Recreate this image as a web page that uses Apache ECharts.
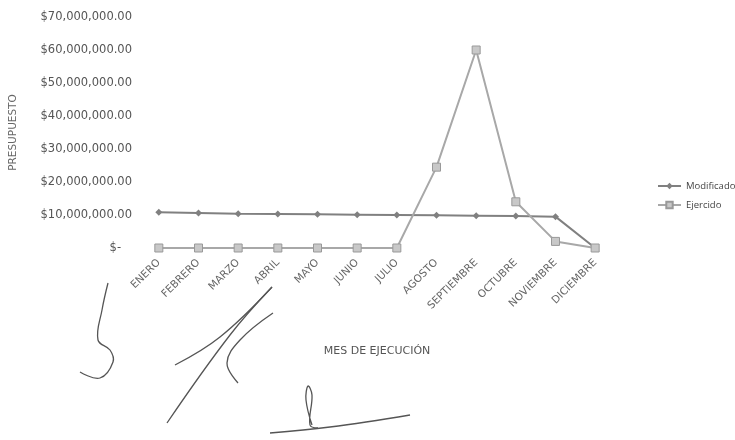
<!DOCTYPE html>
<html><head><meta charset="utf-8">
<script src="https://cdn.jsdelivr.net/npm/echarts@6/dist/echarts.min.js"></script>
<style>html,body{margin:0;padding:0;background:#fff}#c{width:735px;height:440px}</style>
</head><body><div id="c"></div>
<script>
const months = ['ENERO','FEBRERO','MARZO','ABRIL','MAYO','JUNIO','JULIO','AGOSTO','SEPTIEMBRE','OCTUBRE','NOVIEMBRE','DICIEMBRE'];
const modificado = [10800000,10600000,10400000,10300000,10200000,10100000,10000000,9900000,9800000,9700000,9500000,0];
const ejercido = [0,0,0,0,0,0,0,24500000,60000000,14000000,2000000,0];
const yTicks = {min:0, max:70000000, interval:10000000};

function fmt(v){
  if (v === 0) return '$-   ';
  return '$' + v.toLocaleString('en-US') + '.00';
}
const chart = echarts.init(document.getElementById('c'));
const ink = '#666';
const ff = 'DejaVu Sans';
function pl(points){return {type:'polyline', shape:{points:points, smooth:0.4}, style:{stroke:'#555', lineWidth:1.3, fill:null}, silent:true};}
chart.setOption({
  animation:false,
  grid:{left:135, right:120, top:17, bottom:192},
  legend:{orient:'vertical', left:652, top:176, itemWidth:23, itemHeight:8, itemGap:9,
    textStyle:{fontSize:9.5, color:'#444', fontFamily:'Open Sans'},
    data:['Modificado','Ejercido']},
  xAxis:{type:'category', data:months, boundaryGap:true,
    axisLine:{show:false}, axisTick:{show:false},
    axisLabel:{rotate:45, fontSize:10.5, color:ink, fontFamily:ff, interval:0, margin:13},
    name:'MES DE EJECUCIÓN', nameLocation:'middle', nameGap:98,
    nameTextStyle:{fontSize:11, color:'#555', fontFamily:ff}},
  yAxis:{type:'value', min:yTicks.min, max:yTicks.max, interval:yTicks.interval,
    axisLine:{show:false}, axisTick:{show:false}, splitLine:{show:false},
    axisLabel:{formatter:fmt, fontSize:11.5, color:'#555', fontFamily:ff, margin:7},
    name:'PRESUPUESTO', nameLocation:'middle', nameGap:120, nameRotate:90,
    nameTextStyle:{fontSize:10.5, color:'#666', fontFamily:ff}},
  series:[
    {name:'Modificado', type:'line', data:modificado, symbol:'diamond', symbolSize:7,
      lineStyle:{color:'#808080', width:2}, itemStyle:{color:'#808080'}},
    {name:'Ejercido', type:'line', data:ejercido, symbol:'rect', symbolSize:8,
      lineStyle:{color:'#a8a8a8', width:2}, itemStyle:{color:'#c8c8c8', borderColor:'#999', borderWidth:1}}
  ],
  graphic:[
    pl([[108,283],[102,310],[98,340],[110,350],[113,362],[100,378],[80,372]]),
    pl([[272,287],[230,335],[167,423]]),
    pl([[175,365],[220,337],[272,287]]),
    pl([[273,313],[240,340],[227,363],[238,383]]),
    pl([[312,425],[306,400],[308,386],[312,395],[310,425],[318,428]]),
    pl([[270,433],[330,427],[410,415]])
  ]
});
</script></body></html>
